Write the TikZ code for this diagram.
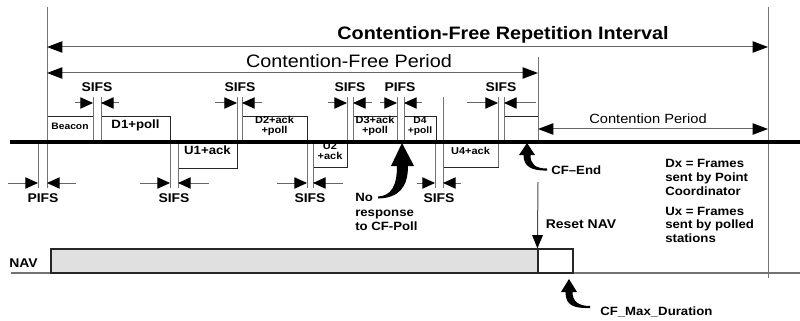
\documentclass[tikz,border=0pt]{standalone}
\usepackage{fontspec}
\setmainfont[FakeStretch=1.1]{Liberation Sans}
\usetikzlibrary{arrows.meta,fit}
\begin{document}
\begin{tikzpicture}[x=0.75pt,y=-0.75pt,
  vline/.style={draw=black!55, line width=0.75pt},
  frame/.style={draw=black!85, line width=0.75pt, inner sep=0pt, fill=white, align=center,
     font=\bfseries\fontsize{7.5}{7.5}\selectfont},
  dimarr/.style={draw=black!60, line width=0.75pt, -{Triangle[length=9.5pt,width=8.5pt,color=black]}},
  bigdim/.style={draw=black!60, line width=0.75pt,
     {Triangle[length=11.5pt,width=8.5pt,color=black]}-{Triangle[length=11.5pt,width=8.5pt,color=black]}},
  lbl/.style={font=\bfseries\fontsize{9.5}{11}\selectfont, inner sep=0pt, anchor=base},
  note/.style={font=\bfseries\fontsize{9}{10.5}\selectfont, inner sep=0pt, align=left, anchor=north west},
]
\useasboundingbox (0,0) rectangle (800,321);

% ---------- frames ----------
\node[frame, fit={(47,117)(93,142)}] (beacon) {\fontsize{7}{7}\selectfont Beacon};
\node[frame, fit={(101,117)(170,142)}] (d1) {\fontsize{9}{9}\selectfont D1+poll};
\node[frame, fit={(178,142)(237,168)}] (u1) {\fontsize{9}{9}\selectfont U1+ack};
\node[frame, fit={(242,117)(307,142)}] (d2) {D2+ack\\+poll};
\node[frame, fit={(313,142)(347,167)}] (u2) {U2\\+ack};
\node[frame, fit={(353,117)(397,142)}] (d3) {D3+ack\\+poll};
\node[frame, fit={(404,117)(436,142)}] (d4) {\fontsize{7}{7.5}\selectfont D4\\+poll};
\node[frame, fit={(443,142)(498,167)}] (u4) {U4+ack};
\node[frame, fit={(504,117)(538,142)}] (cfend) {};

% ---------- vertical marker lines ----------
\coordinate (L0t) at (47,7);   \coordinate (L0b) at (47,188);
\coordinate (Lpt) at (38,142); \coordinate (Lpb) at (38,188);
\coordinate (Rt) at (768,7);   \coordinate (Rb) at (768,278);
\coordinate (Ct) at (538,57);  \coordinate (Cb) at (538,142);
\draw[vline] (L0t) -- (L0b);
\draw[vline] (Lpt) -- (Lpb);
\draw[vline] (Rt) -- (Rb);
\draw[vline] (Ct) -- (Cb);
\foreach \x in {93,101,237,242,347,353,397,404,504}
  \draw[vline] (\x,97) -- (\x,142);
\foreach \x in {170,178,307,313,435}
  \draw[vline] (\x,142) -- (\x,188);
\draw[vline] (443,97) -- (443,188);
\draw[vline] (498,97) -- (498,167);

% ---------- time line ----------
\coordinate (tl0) at (10,142); \coordinate (tl1) at (800,142);
\draw[line width=2.4pt] (tl0) -- (tl1);

% ---------- top dimensions ----------
\coordinate (cfri0) at (47,47); \coordinate (cfri1) at (768,47);
\draw[bigdim] (cfri0) -- (cfri1);
\node[font=\bfseries\fontsize{13.5}{15}\selectfont, inner sep=0pt, anchor=base] (cfrilbl) at (503,40) {Contention-Free Repetition Interval};
\coordinate (cfp0) at (47,73); \coordinate (cfp1) at (538,73);
\draw[bigdim] (cfp0) -- (cfp1);
\node[font=\fontsize{13.5}{15}\selectfont, inner sep=0pt, anchor=base] (cfplbl) at (349,68) {Contention-Free Period};
\coordinate (cp0) at (538,129); \coordinate (cp1) at (768,129);
\draw[bigdim] (cp0) -- (cp1);
\node[font=\fontsize{10}{12}\selectfont, inner sep=0pt, anchor=base] (cplbl) at (648,123) {Contention Period};

% ---------- upper SIFS / PIFS ----------
\foreach \a/\l/\r/\b/\t/\c in {75/93/101/119/SIFS/97, 215/237/242/262/SIFS/240, 328/347/353/372/SIFS/350,
                                380/397/404/422/PIFS/400, 467/498/504/536/SIFS/501}{
  \draw[dimarr] (\a,103) -- (\l,103);
  \draw[dimarr] (\b,103) -- (\r,103);
  \node[lbl] at (\c,92) {\t};
}
% ---------- lower SIFS / PIFS ----------
\foreach \a/\l/\r/\b/\t/\c in {8/38/47/76/PIFS/43, 140/170/178/209/SIFS/174, 277/307/313/343/SIFS/310,
                                417/435/443/461/SIFS/439}{
  \draw[dimarr] (\a,183) -- (\l,183);
  \draw[dimarr] (\b,183) -- (\r,183);
  \node[lbl] at (\c,202) {\t};
}

% ---------- CF-End ----------
\node[font=\bfseries\fontsize{9}{11}\selectfont, inner sep=0pt, anchor=base west] (cfendlbl) at (551,175) {CF–End};
\coordinate (cfendtip) at (527,143);
\fill[shift={(cfendtip)}] (0,0) -- (8,12) -- (3.5,12) .. controls (3.5,21) and (8,25.5) .. (20,25.5)
   -- (20,27.5) .. controls (4,28) and (-3.5,23) .. (-3.5,12) -- (-8,12) -- cycle;

% ---------- No response ----------
\node[font=\bfseries\fontsize{9}{10.9}\selectfont, inner sep=0pt, align=left, anchor=north west] (noresp) at (355,193) {No\\response\\to CF-Poll};
\coordinate (norestip) at (402,143);
\fill[shift={(norestip)}] (0,0) -- (12,23) -- (6,23) .. controls (6,44) and (-3,55) .. (-24,55.5)
   -- (-24,53.5) .. controls (-11,53) and (-5,43) .. (-5,23) -- (-11,23) -- cycle;

% ---------- legend ----------
\node[note] (dx) at (665,159) {Dx = Frames\\sent by Point\\Coordinator};
\node[note, font=\bfseries\fontsize{9}{10}\selectfont] (ux) at (665,207) {Ux = Frames\\sent by polled\\stations};

% ---------- NAV ----------
\node[font=\bfseries\fontsize{9.5}{11}\selectfont, inner sep=0pt, anchor=base west] (navlbl) at (9,267) {NAV};
\coordinate (nav0) at (11,273); \coordinate (nav1) at (800,273);
\draw[draw=black!55, line width=1.3pt] (nav0) -- (nav1);
\node[draw=black!85, line width=0.9pt, fill=black!12, inner sep=0pt, fit={(51,249)(538,273)}] (navbox) {};
\node[draw=black!85, line width=0.9pt, fill=white, inner sep=0pt, fit={(538,249)(573,273)}] (navrest) {};
\node[font=\bfseries\fontsize{9.5}{11}\selectfont, inner sep=0pt, anchor=base] (resetlbl) at (581,228) {Reset NAV};
\coordinate (reset0) at (538,182);
\draw[draw=black!70, line width=0.75pt, -{Triangle[length=10pt,width=8pt,color=black]}] (reset0) -- (navrest.north west);

% ---------- CF_Max_Duration ----------
\node[font=\bfseries\fontsize{9}{11}\selectfont, inner sep=0pt, anchor=base west] (maxlbl) at (600,315) {CF\_Max\_Duration};
\coordinate (maxtip) at (569,279);
\fill[shift={(maxtip)}] (0,0) -- (8,13) -- (3.5,13) .. controls (3.5,22) and (9,27) .. (21,27)
   -- (21,29) .. controls (4,29.5) and (-3.5,26) .. (-3.5,13) -- (-8,13) -- cycle;
\end{tikzpicture}
\end{document}
